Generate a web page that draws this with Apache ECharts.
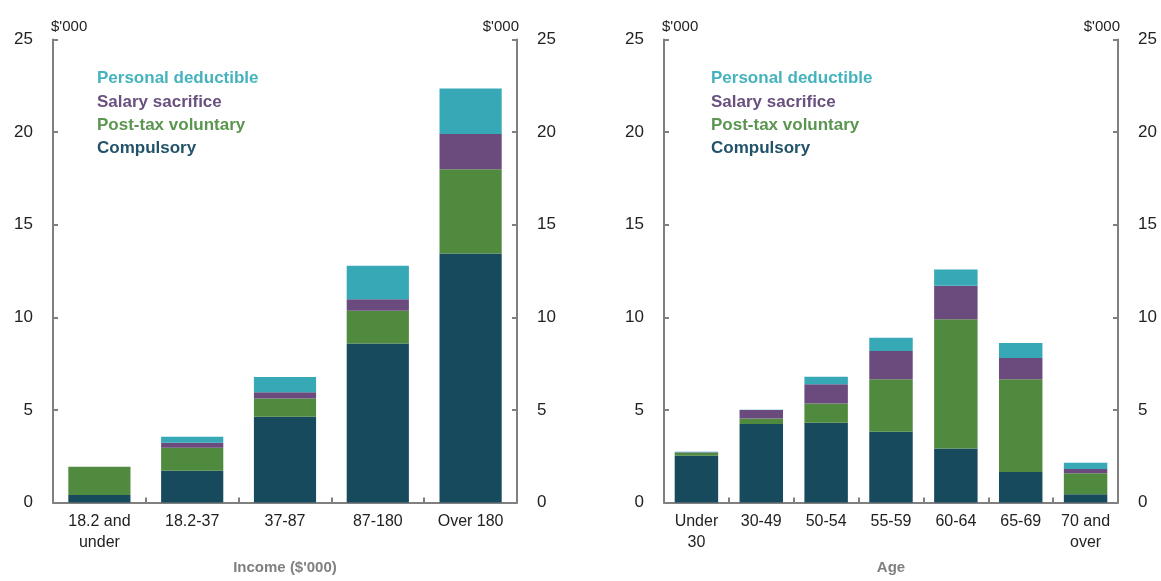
<!DOCTYPE html>
<html>
<head>
<meta charset="utf-8">
<script src="https://cdn.jsdelivr.net/npm/echarts@6/dist/echarts.min.js"></script>
<style>
html,body{margin:0;padding:0;background:#fff;}
#c{width:1161px;height:581px;}
</style>
</head>
<body>
<div id="c"></div>
<script>
// Panel 1: by income
const incomeCategories = ['18.2 and\nunder', '18.2-37', '37-87', '87-180', 'Over 180'];
const incomeCompulsory = [0.40, 1.72, 4.63, 8.59, 13.45];
const incomePostTax    = [1.53, 1.24, 0.99, 1.76, 4.55];
const incomeSalary     = [0.00, 0.27, 0.33, 0.63, 1.90];
const incomePersonal   = [0.00, 0.32, 0.82, 1.80, 2.45];

// Panel 2: by age
const ageCategories = ['Under\n30', '30-49', '50-54', '55-59', '60-64', '65-69', '70 and\nover'];
const ageCompulsory = [2.52, 4.24, 4.31, 3.82, 2.92, 1.65, 0.44];
const agePostTax    = [0.16, 0.30, 1.04, 2.83, 6.97, 5.01, 1.14];
const ageSalary     = [0.04, 0.45, 1.04, 1.53, 1.81, 1.14, 0.23];
const agePersonal   = [0.02, 0.02, 0.40, 0.71, 0.88, 0.81, 0.34];

const yTicks = [0, 5, 10, 15, 20, 25];
const unitLabel = "$'000";
const seriesNames = ['Personal deductible', 'Salary sacrifice', 'Post-tax voluntary', 'Compulsory'];
const xTitles = ["Income ($'000)", 'Age'];

const barColors = {
  'Compulsory': '#174a5d',
  'Post-tax voluntary': '#4f8a3f',
  'Salary sacrifice': '#6b4a7e',
  'Personal deductible': '#36a8b6'
};
const legendColors = {
  'Compulsory': '#23536a',
  'Post-tax voluntary': '#5a9650',
  'Salary sacrifice': '#69507f',
  'Personal deductible': '#45b3bd'
};

const FONT = '"Liberation Sans", Arial, sans-serif';
const axisGrey = '#808080';

function xAxis(gridIndex, cats, title) {
  return {
    type: 'category', gridIndex, data: cats,
    axisLine: {show: true, lineStyle: {color: axisGrey, width: 2}},
    axisTick: {show: true, inside: true, length: 5, alignWithLabel: false, interval: 0, lineStyle: {color: axisGrey, width: 2}},
    axisLabel: {interval: 0, fontFamily: FONT, fontSize: 16, color: '#222', lineHeight: 21, margin: 9},
    name: title, nameLocation: 'middle', nameGap: 58,
    nameTextStyle: {fontFamily: FONT, fontSize: 15, fontWeight: 'bold', color: '#808080'}
  };
}
function yAxis(gridIndex, position) {
  return {
    type: 'value', gridIndex, position, min: yTicks[0], max: yTicks[yTicks.length - 1],
    interval: yTicks[1] - yTicks[0],
    axisLine: {show: true, lineStyle: {color: axisGrey, width: 2}},
    axisTick: {show: true, inside: true, length: 5, lineStyle: {color: axisGrey, width: 2}},
    axisLabel: {fontFamily: FONT, fontSize: 17, color: '#222', margin: 20},
    splitLine: {show: false},
    name: unitLabel, nameLocation: 'end', nameGap: 13,
    nameTextStyle: {fontFamily: FONT, fontSize: 15, color: '#222',
      align: position === 'left' ? 'left' : 'right', verticalAlign: 'middle',
      padding: position === 'left' ? [0, 0, 0, -2] : [0, -2, 0, 0]}
  };
}
function stackSeries(gi, stackName, data) {
  const m = {
    'Compulsory': data[0], 'Post-tax voluntary': data[1],
    'Salary sacrifice': data[2], 'Personal deductible': data[3]
  };
  return ['Compulsory', 'Post-tax voluntary', 'Salary sacrifice', 'Personal deductible'].map(n => ({
    name: n, type: 'bar', stack: stackName, xAxisIndex: gi, yAxisIndex: gi * 2,
    data: m[n], barCategoryGap: '33%', itemStyle: {color: barColors[n]},
    emphasis: {disabled: true}
  }));
}
function legend(left) {
  return {
    orient: 'vertical', left, top: 62, itemWidth: 0, itemHeight: 0, itemGap: 0,
    selectedMode: false,
    data: seriesNames.map(n => ({name: n, icon: 'none', textStyle: {color: legendColors[n]}})),
    textStyle: {fontFamily: FONT, fontSize: 17, fontWeight: 'bold', lineHeight: 23.3}
  };
}

const chart = echarts.init(document.getElementById('c'), null, {renderer: 'canvas'});
chart.setOption({
  animation: false,
  backgroundColor: '#fff',
  grid: [
    {left: 53, right: 1161 - 517, top: 39.5, bottom: 581 - 502.5},
    {left: 664, right: 1161 - 1118, top: 39.5, bottom: 581 - 502.5}
  ],
  legend: [legend(87), legend(701)],
  xAxis: [xAxis(0, incomeCategories, xTitles[0]), xAxis(1, ageCategories, xTitles[1])],
  yAxis: [yAxis(0, 'left'), yAxis(0, 'right'), yAxis(1, 'left'), yAxis(1, 'right')],
  series: [
    ...stackSeries(0, 'inc', [incomeCompulsory, incomePostTax, incomeSalary, incomePersonal]),
    ...stackSeries(1, 'age', [ageCompulsory, agePostTax, ageSalary, agePersonal])
  ]
});
</script>
</body>
</html>
